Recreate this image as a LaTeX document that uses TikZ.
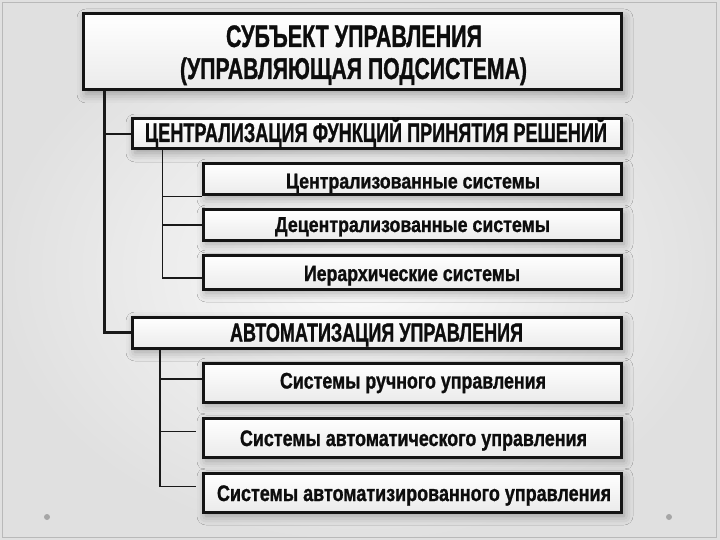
\documentclass[tikz,border=0pt]{standalone}
\usepackage{fontspec}
\setmainfont{Liberation Sans}
\newfontfamily\heavyfont[FakeBold=1.2]{Liberation Sans Bold}
\usetikzlibrary{shadows.blur,calc}
\newsavebox\fitbox
\newcommand\myfit[2]{\sbox\fitbox{#2}\pgfmathsetmacro\fitr{#1/\the\wd\fitbox}\scalebox{\fitr}[1]{\usebox\fitbox}}
\tikzset{
  box/.style={draw=black!92, line width=3pt, inner sep=0pt,
    top color=white, bottom color=gray!16,
    blur shadow={shadow xshift=3pt, shadow yshift=-4pt, shadow blur radius=9pt, shadow opacity=32}},
  lbl/.style={inner sep=0pt, anchor=base, text=black!95},
  conn/.style={line width=2.6pt, black!90},
  subconn/.style={line width=1.6pt, black!90},
}
\begin{document}
\begin{tikzpicture}[x=1pt,y=-1pt]
\useasboundingbox (0,0) rectangle (720,540);
\shade[inner color=gray!3, outer color=gray!24] (0,0) rectangle (720,540);
\draw[gray!55, line width=0.8pt] (2.5,2.5) rectangle (716,537.5);
\fill[gray!70] (47,517) circle (3);
\fill[gray!70] (669,517) circle (3);

% boxes
\node[box, minimum width=538, minimum height=76] (top) at (352,52) {};
\node[box, minimum width=489, minimum height=30] (B2) at (376.5,134) {};
\node[box, minimum width=418, minimum height=31] (c1) at (412,179.5) {};
\node[box, minimum width=418, minimum height=30] (c2) at (412,225) {};
\node[box, minimum width=418, minimum height=34] (c3) at (412,272) {};
\node[box, minimum width=489, minimum height=31] (B3) at (376.5,332.5) {};
\node[box, minimum width=418, minimum height=39] (a1) at (412,382.5) {};
\node[box, minimum width=418, minimum height=39] (a2) at (412,437.5) {};
\node[box, minimum width=418, minimum height=39] (a3) at (412,492.5) {};

% labels
\node[lbl, font=\heavyfont\fontsize{31}{34}\selectfont] (t1) at (354,47) {\myfit{256}{СУБЪЕКТ УПРАВЛЕНИЯ}};
\node[lbl, font=\heavyfont\fontsize{30}{34}\selectfont] (t2) at (353.5,79) {\myfit{347}{(УПРАВЛЯЮЩАЯ ПОДСИСТЕМА)}};
\node[lbl, font=\heavyfont\fontsize{27}{30}\selectfont] (B2t) at (376,142) {\myfit{462}{ЦЕНТРАЛИЗАЦИЯ ФУНКЦИЙ ПРИНЯТИЯ РЕШЕНИЙ}};
\node[lbl, font=\heavyfont\fontsize{21.5}{24}\selectfont] (c1t) at (413,188.5) {\myfit{254}{Централизованные системы}};
\node[lbl, font=\heavyfont\fontsize{21.5}{24}\selectfont] (c2t) at (412.5,232) {\myfit{275}{Децентрализованные системы}};
\node[lbl, font=\heavyfont\fontsize{22}{24}\selectfont] (c3t) at (412,281) {\myfit{216}{Иерархические системы}};
\node[lbl, font=\heavyfont\fontsize{26}{28}\selectfont] (B3t) at (376.5,341.5) {\myfit{293}{АВТОМАТИЗАЦИЯ УПРАВЛЕНИЯ}};
\node[lbl, font=\heavyfont\fontsize{22.5}{24}\selectfont] (a1t) at (413,388.5) {\myfit{266}{Системы ручного управления}};
\node[lbl, font=\heavyfont\fontsize{22.5}{24}\selectfont] (a2t) at (413.5,446) {\myfit{347}{Системы автоматического управления}};
\node[lbl, font=\heavyfont\fontsize{22.5}{24}\selectfont] (a3t) at (414,501) {\myfit{394}{Системы автоматизированного управления}};

% connectors
\coordinate (m0) at ($(top.south west)+(23,0)$);
\draw[conn] (m0) |- (B2.west);
\draw[conn] (m0) |- (B3.west);
\coordinate (s1) at ($(B2.south west)+(32,0)$);
\draw[subconn] (s1) |- (c1.south west);
\draw[subconn] (s1) |- (c2.west);
\draw[subconn] (s1) |- ($(c3.west)+(0,6)$);
\coordinate (s2) at ($(B3.south west)+(29.5,0)$);
\coordinate (e2) at ($(a2.west)+(-6,-6)$);
\coordinate (e3) at ($(a3.west)+(-6,-6)$);
\draw[subconn] (s2) |- ($(a1.west)+(0,-3.5)$);
\draw[subconn] (s2) |- (e2);
\draw[subconn] (s2) |- (e3);
\end{tikzpicture}
\end{document}
